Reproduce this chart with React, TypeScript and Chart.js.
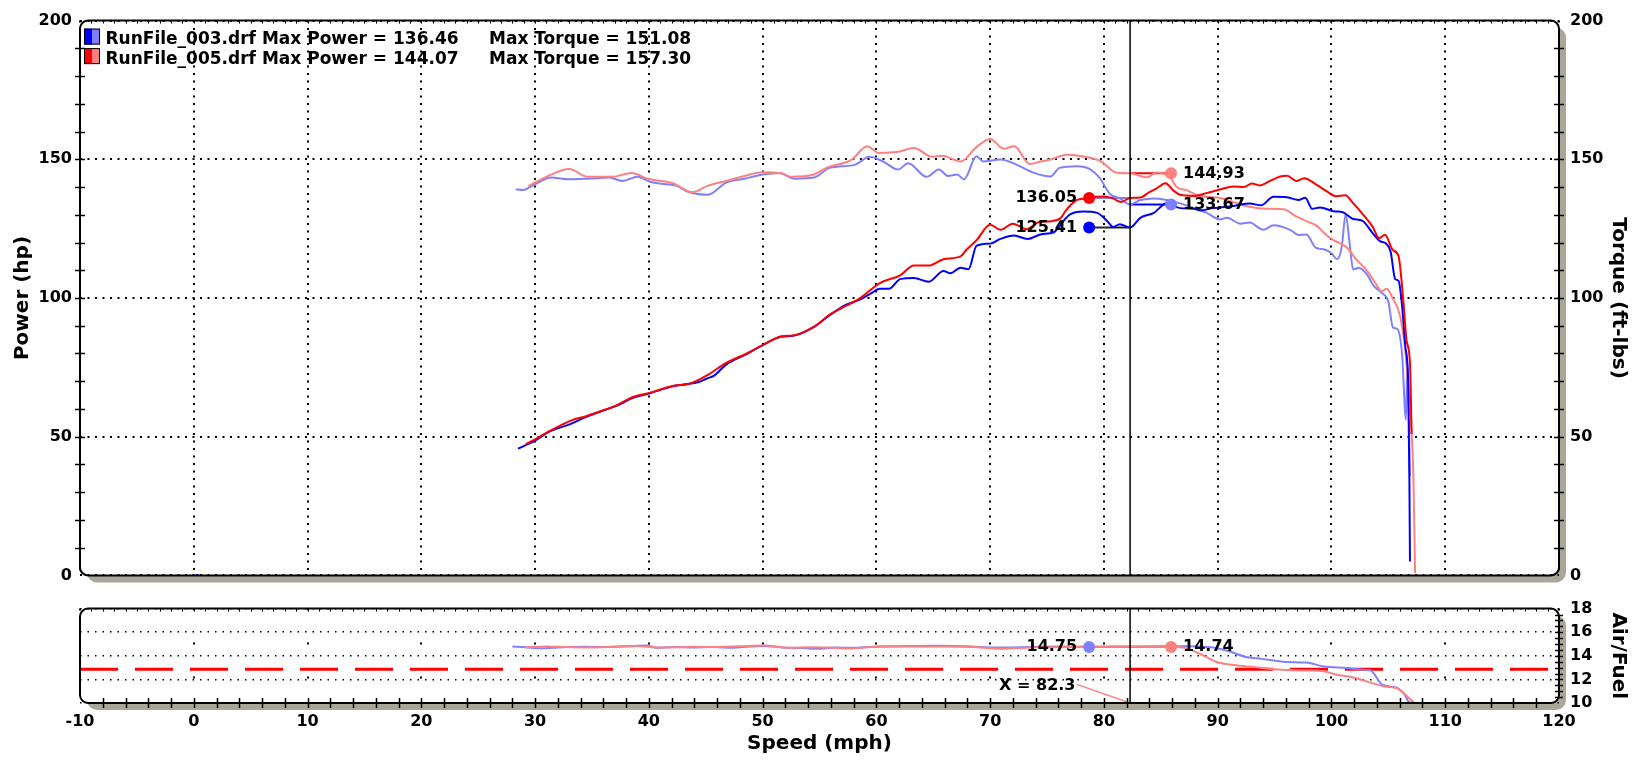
import React, { useEffect, useRef } from "react";
import { Chart, registerables } from "chart.js";

Chart.register(...registerables);

const FONT = "'DejaVu Sans', Verdana, sans-serif";
const BLUE = "#0000ff";
const RED = "#ff0000";
const LBLUE = "#8080ff";
const PINK = "#ff8080";
const SHADOW = "#aaa698";

// ---------- axes ----------
const speedMin = -10;
const speedMax = 120;
const speedStep = 10;
const powerMin = 0;
const powerMax = 200;
const powerStep = 50;
const afrMin = 10;
const afrMax = 18;
const afrStep = 2;

// ---------- titles / legend ----------
const powerTitle = "Power (hp)";
const torqueTitle = "Torque (ft-lbs)";
const afrTitle = "Air/Fuel";
const speedTitle = "Speed (mph)";
const runNames = ["RunFile_003.drf", "RunFile_005.drf"];
const runMaxPower = ["136.46", "144.07"];
const runMaxTorque = ["151.08", "157.30"];

// ---------- series: [speed mph, value] ----------
const power003: [number, number][] = [
  [28.5, 45.7], [30.0, 48.6], [31.3, 51.9], [33.2, 54.7], [34.5, 57.2], [35.7, 59.0], [37.2, 61.2], [38.6, 64.0],
  [40.0, 65.6], [42.1, 68.2], [43.4, 69.0], [44.3, 69.6], [45.1, 71.0], [45.7, 71.9], [46.8, 76.0], [48.6, 79.8],
  [50.0, 83.0], [51.6, 86.0], [52.7, 86.4], [54.4, 89.3], [55.9, 93.8], [57.3, 97.5], [58.5, 99.3], [59.5, 101.6],
  [60.3, 103.3], [61.1, 103.3], [62.1, 106.8], [63.3, 107.2], [64.6, 105.9], [65.9, 109.7], [66.5, 108.9],
  [67.4, 110.9], [68.1, 110.4], [68.8, 118.8], [70.0, 119.6], [70.9, 121.3], [72.1, 122.5], [73.3, 121.3],
  [74.5, 123.0], [75.6, 123.7], [76.3, 127.0], [77.0, 130.1], [78.2, 131.2], [79.4, 130.7], [80.3, 127.7],
  [80.8, 125.6], [81.4, 126.6], [82.3, 125.4], [83.2, 128.9], [84.4, 130.7], [85.5, 134.2], [86.7, 132.4],
  [87.9, 132.2], [88.5, 131.6], [89.6, 132.4], [91.4, 133.2], [92.8, 134.1], [93.8, 133.4], [94.9, 136.46],
  [96.1, 136.3], [97.1, 135.3], [97.7, 136.1], [98.3, 132.2], [99.0, 132.6], [100.2, 131.3], [101.0, 130.9],
  [101.9, 128.5], [102.7, 127.9], [103.6, 123.5], [104.3, 120.4], [104.7, 119.9], [105.2, 116.7], [105.6, 106.8],
  [105.9, 106.2], [106.2, 97.5], [106.5, 82.4], [106.75, 68.4], [106.85, 34.7], [106.9, 5.0],
];

const power005: [number, number][] = [
  [29.2, 47.3], [29.7, 48.4], [31.3, 52.1], [33.2, 55.9], [34.5, 57.4], [35.7, 59.1], [37.2, 61.4], [38.6, 64.3],
  [40.0, 65.7], [42.2, 68.4], [43.5, 69.0], [45.1, 72.1], [46.8, 76.6], [48.6, 80.0], [50.1, 83.2], [51.7, 86.2],
  [52.7, 86.5], [54.5, 89.6], [55.9, 94.0], [57.4, 97.3], [58.5, 99.8], [59.4, 102.6], [60.3, 105.4], [62.1, 108.2],
  [63.3, 111.7], [64.6, 111.7], [65.9, 114.0], [67.4, 115.0], [67.9, 117.3], [68.8, 120.8], [70.0, 126.4],
  [70.9, 124.6], [72.0, 126.8], [73.2, 124.8], [74.3, 127.4], [75.4, 127.7], [76.2, 128.8], [76.6, 131.2],
  [77.1, 133.6], [77.6, 135.3], [78.5, 135.9], [79.3, 136.5], [80.0, 136.6], [80.8, 135.9], [81.5, 134.6],
  [82.3, 136.05], [83.2, 136.2], [84.0, 138.2], [84.6, 139.4], [85.4, 141.4], [86.1, 138.8], [86.7, 137.2],
  [87.9, 136.8], [89.0, 137.8], [90.1, 139.0], [91.4, 140.2], [92.3, 140.0], [93.0, 141.3], [93.7, 140.6],
  [94.5, 142.0], [95.5, 143.8], [96.1, 144.07], [96.9, 142.2], [97.6, 143.2], [98.7, 140.8], [99.6, 138.4],
  [100.4, 136.7], [101.2, 137.0], [101.9, 134.2], [102.8, 130.0], [103.6, 125.8], [104.2, 121.6], [104.7, 122.8],
  [105.4, 117.3], [105.9, 115.0], [106.3, 99.8], [106.6, 84.7], [106.9, 76.6], [107.05, 51.0],
];

const torque003: [number, number][] = [
  [28.3, 139.2], [28.9, 138.9], [30.0, 141.0], [31.4, 143.4], [33.0, 142.8], [34.6, 143.0], [36.5, 143.4],
  [37.7, 142.2], [39.0, 143.7], [40.1, 141.9], [41.5, 141.0], [42.4, 140.5], [43.4, 138.4], [45.2, 137.2],
  [46.8, 141.6], [48.4, 143.0], [50.0, 144.5], [51.5, 145.1], [52.8, 143.0], [54.5, 143.4], [55.9, 146.9],
  [58.1, 148.0], [59.4, 150.9], [60.6, 149.2], [61.9, 146.3], [62.8, 148.6], [64.4, 143.7], [65.5, 146.3],
  [66.3, 144.0], [67.1, 144.5], [67.7, 142.8], [68.8, 151.08], [69.4, 149.2], [70.9, 149.9], [72.3, 148.1],
  [73.8, 145.2], [75.3, 143.8], [76.1, 146.9], [77.6, 147.5], [78.8, 146.4], [79.7, 142.9], [80.5, 137.6],
  [81.4, 135.9], [82.3, 133.7], [83.2, 135.3], [84.4, 135.9], [85.5, 135.3], [86.7, 134.1], [87.9, 132.4],
  [89.0, 130.8], [90.2, 128.3], [90.8, 128.9], [92.0, 126.8], [92.8, 127.2], [94.0, 124.6], [94.9, 126.2],
  [96.4, 124.5], [97.1, 122.7], [97.8, 122.9], [98.6, 118.2], [99.4, 117.5], [100.0, 116.1], [100.5, 114.0],
  [100.9, 118.4], [101.25, 130.1], [101.6, 119.6], [101.9, 110.3], [102.4, 110.9], [103.1, 108.6], [103.7, 104.5],
  [104.4, 101.9], [105.0, 98.7], [105.4, 89.4], [105.8, 88.8], [106.2, 80.0], [106.55, 56.2], [106.67, 76.6],
  [106.9, 35.8],
];

const torque005: [number, number][] = [
  [29.4, 140.3], [31.4, 144.5], [33.0, 146.5], [34.6, 143.7], [36.8, 143.7], [38.5, 145.1], [39.9, 143.0],
  [42.1, 141.4], [43.8, 138.1], [45.2, 140.5], [46.8, 142.2], [48.4, 144.0], [50.0, 145.3], [51.5, 145.1],
  [52.5, 143.7], [54.5, 144.5], [55.6, 146.9], [57.8, 149.8], [59.2, 154.7], [60.2, 152.3], [61.9, 152.7],
  [63.3, 154.1], [64.9, 150.9], [65.8, 151.3], [67.4, 149.2], [68.8, 154.4], [70.0, 157.3], [71.2, 153.8],
  [72.1, 154.7], [73.5, 148.3], [74.4, 149.2], [75.3, 149.9], [76.7, 151.6], [78.2, 151.0], [79.7, 149.3],
  [81.1, 145.2], [82.3, 144.93], [83.8, 143.5], [84.6, 145.2], [85.8, 143.5], [86.4, 140.0], [87.3, 138.8],
  [88.4, 136.8], [90.0, 136.2], [91.4, 134.5], [92.9, 132.8], [94.3, 132.2], [95.8, 132.0], [96.9, 129.4],
  [98.1, 127.2], [98.7, 126.0], [99.6, 122.5], [100.2, 120.8], [100.8, 119.6], [101.4, 118.0], [102.2, 113.8],
  [103.1, 110.0], [104.0, 104.5], [104.4, 102.4], [104.85, 103.3], [105.4, 99.8], [106.0, 94.0], [106.45, 82.4],
  [106.9, 59.1], [107.2, 35.8], [107.35, 0.9],
];

const afr003: [number, number][] = [
  [28.0, 14.79], [29.2, 14.72], [30.4, 14.63], [31.6, 14.68], [32.8, 14.74], [34.5, 14.76], [36.0, 14.74],
  [38.0, 14.8], [39.8, 14.87], [40.7, 14.68], [42.3, 14.74], [43.9, 14.71], [45.6, 14.74], [47.4, 14.68],
  [48.8, 14.78], [50.1, 14.84], [52.1, 14.68], [53.5, 14.66], [54.8, 14.59], [56.4, 14.7], [58.0, 14.68],
  [60.3, 14.79], [62.8, 14.82], [65.3, 14.85], [67.9, 14.8], [70.9, 14.7], [73.5, 14.74], [76.0, 14.78],
  [78.7, 14.76], [80.5, 14.78], [82.4, 14.79], [84.8, 14.8], [87.2, 14.8], [88.4, 14.78], [89.6, 14.7],
  [91.0, 14.39], [92.4, 13.92], [93.9, 13.74], [96.0, 13.48], [97.8, 13.43], [99.3, 13.09], [101.4, 12.96],
  [102.5, 12.83], [103.4, 12.78], [104.5, 11.53], [105.7, 11.32], [106.4, 10.75], [106.8, 10.1], [107.2, 10.0],
];

const afr005: [number, number][] = [
  [29.1, 14.71], [31.0, 14.79], [32.9, 14.74], [34.8, 14.71], [36.8, 14.76], [38.9, 14.84], [40.7, 14.71],
  [42.6, 14.72], [44.0, 14.76], [45.7, 14.74], [48.0, 14.8], [50.1, 14.87], [52.4, 14.68], [54.3, 14.72],
  [55.9, 14.7], [57.7, 14.61], [60.3, 14.79], [63.2, 14.78], [66.2, 14.79], [68.5, 14.74], [70.9, 14.6],
  [74.0, 14.72], [78.1, 14.76], [82.3, 14.77], [85.9, 14.78], [87.2, 14.65], [88.5, 14.13], [89.9, 13.48],
  [91.4, 13.22], [93.2, 13.04], [95.3, 12.83], [97.8, 12.75], [99.3, 12.7], [100.3, 12.44], [101.8, 12.18],
  [103.2, 11.79], [104.7, 11.4], [105.7, 11.27], [106.6, 10.62], [107.3, 10.0],
];

const stray003: [number, number][] = [[0.3, 0]];

// ---------- cursor / readouts ----------
const cursorSpeed = 82.3;
const markerSpeedLeft = 78.7;
const markerSpeedRight = 85.9;
const cursorPower = [125.41, 136.05]; // run 003, run 005
const cursorTorque = [133.67, 144.93];
const cursorAfr = [14.75, 14.74];
const afrTarget = 12.85;
const cursorLabel = "X = 82.3";
const cursorLabelAt: [number, number] = [77.5, 11.48];
const cursorLeader: [number, number][] = [[77.6, 11.58], [82.3, 10.0]];

// ---------- helpers ----------
const pts = (a: [number, number][]) => a.map(([x, y]) => ({ x, y }));
const fmt = (v: number) => v.toFixed(2);

const curve = (data: [number, number][], color: string, axis: string, order: number) => ({
  data: pts(data),
  borderColor: color,
  backgroundColor: color,
  borderWidth: 2,
  pointRadius: 0,
  pointHoverRadius: 0,
  yAxisID: axis,
  cubicInterpolationMode: "monotone",
  fill: false,
  order,
});

const seg = (data: [number, number][], color: string, axis: string, width = 2, dash: number[] = []) => ({
  data: pts(data),
  borderColor: color,
  backgroundColor: color,
  borderWidth: width,
  borderDash: dash,
  pointRadius: 0,
  pointHoverRadius: 0,
  yAxisID: axis,
  tension: 0,
  fill: false,
  order: 6,
});

const dot = (x: number, y: number, color: string, axis: string, r = 6) => ({
  data: [{ x, y }],
  showLine: false,
  pointRadius: r,
  pointHoverRadius: r,
  pointBackgroundColor: color,
  pointBorderColor: color,
  pointBorderWidth: 0,
  borderColor: color,
  backgroundColor: color,
  yAxisID: axis,
  order: 0,
});

function roundRectPath(ctx: CanvasRenderingContext2D, x: number, y: number, w: number, h: number, r: number) {
  ctx.beginPath();
  ctx.moveTo(x + r, y);
  ctx.lineTo(x + w - r, y);
  ctx.arcTo(x + w, y, x + w, y + r, r);
  ctx.lineTo(x + w, y + h - r);
  ctx.arcTo(x + w, y + h, x + w - r, y + h, r);
  ctx.lineTo(x + r, y + h);
  ctx.arcTo(x, y + h, x, y + h - r, r);
  ctx.lineTo(x, y + r);
  ctx.arcTo(x, y, x + r, y, r);
  ctx.closePath();
}

const framePlugin = {
  id: "frame",
  beforeDraw(chart: any) {
    const { ctx, chartArea: a } = chart;
    ctx.save();
    roundRectPath(ctx, a.left + 7, a.top + 7, a.right - a.left, a.bottom - a.top, 10);
    ctx.fillStyle = SHADOW;
    ctx.fill();
    roundRectPath(ctx, a.left, a.top, a.right - a.left, a.bottom - a.top, 8);
    ctx.fillStyle = "#ffffff";
    ctx.fill();
    ctx.restore();
  },
  afterDatasetsDraw(chart: any) {
    const { ctx, chartArea: a, scales } = chart;
    const cx = scales.x.getPixelForValue(cursorSpeed);
    ctx.save();
    ctx.strokeStyle = "#000";
    ctx.lineWidth = 1.5;
    ctx.beginPath();
    ctx.moveTo(cx, a.top);
    ctx.lineTo(cx, a.bottom);
    ctx.stroke();
    ctx.restore();
  },
  afterDraw(chart: any) {
    const { ctx, chartArea: a } = chart;
    ctx.save();
    roundRectPath(ctx, a.left, a.top, a.right - a.left, a.bottom - a.top, 8);
    ctx.lineWidth = 2;
    ctx.strokeStyle = "#000";
    ctx.stroke();
    ctx.restore();
  },
};

function drawValueLabel(ctx: CanvasRenderingContext2D, text: string, x: number, y: number, side: "left" | "right") {
  ctx.font = `bold 16px ${FONT}`;
  ctx.fillStyle = "#000";
  ctx.textBaseline = "middle";
  ctx.textAlign = side === "left" ? "right" : "left";
  ctx.fillText(text, side === "left" ? x - 12 : x + 12, y);
}

const mainDecor = {
  id: "mainDecor",
  afterDraw(chart: any) {
    const { ctx, chartArea: a, scales } = chart;
    const xs = scales.x;
    const ys = scales.y;
    const ts = scales.t;
    ctx.save();
    ctx.strokeStyle = "#000";
    ctx.lineWidth = 1.5;
    ctx.beginPath();
    for (let v = powerMin + 10; v < powerMax; v += 10) {
      const y = Math.round(ys.getPixelForValue(v)) + 0.5;
      ctx.moveTo(a.left - 5, y);
      ctx.lineTo(a.left + 5, y);
      ctx.moveTo(a.right - 5, y);
      ctx.lineTo(a.right + 5, y);
    }
    ctx.stroke();
    ctx.lineWidth = 1;
    ctx.beginPath();
    for (let s = speedMin + 1; s < speedMax; s += 1) {
      const x = Math.round(xs.getPixelForValue(s)) + 0.5;
      ctx.moveTo(x, a.top);
      ctx.lineTo(x, a.top + 3);
    }
    ctx.stroke();

    drawValueLabel(ctx, fmt(cursorPower[1]), xs.getPixelForValue(markerSpeedLeft), ys.getPixelForValue(cursorPower[1]), "left");
    drawValueLabel(ctx, fmt(cursorPower[0]), xs.getPixelForValue(markerSpeedLeft), ys.getPixelForValue(cursorPower[0]), "left");
    drawValueLabel(ctx, fmt(cursorTorque[1]), xs.getPixelForValue(markerSpeedRight), ts.getPixelForValue(cursorTorque[1]), "right");
    drawValueLabel(ctx, fmt(cursorTorque[0]), xs.getPixelForValue(markerSpeedRight), ts.getPixelForValue(cursorTorque[0]), "right");

    const cols = [[BLUE, LBLUE], [RED, PINK]];
    for (let i = 0; i < 2; i++) {
      const bx = a.left + 4;
      const by = a.top + 8 + i * 19.5;
      ctx.fillStyle = cols[i][0];
      ctx.fillRect(bx, by, 8, 16);
      ctx.fillStyle = cols[i][1];
      ctx.fillRect(bx + 8, by, 8, 16);
      ctx.strokeStyle = "#000";
      ctx.lineWidth = 1;
      ctx.strokeRect(bx + 0.5, by + 0.5, 15, 15);
      ctx.font = `bold 17px ${FONT}`;
      ctx.fillStyle = "#000";
      ctx.textAlign = "left";
      ctx.textBaseline = "alphabetic";
      const base = a.top + 23.5 + i * 19.5;
      ctx.fillText(`${runNames[i]} Max Power = ${runMaxPower[i]}`, a.left + 25.5, base);
      ctx.fillText(`Max Torque = ${runMaxTorque[i]}`, a.left + 409, base);
    }
    ctx.restore();
  },
};

const afrDecor = {
  id: "afrDecor",
  afterDraw(chart: any) {
    const { ctx, chartArea: a, scales } = chart;
    const xs = scales.x;
    const as = scales.a;
    ctx.save();
    ctx.strokeStyle = "#000";
    ctx.lineWidth = 1.5;
    ctx.beginPath();
    for (let s = speedMin + 2; s < speedMax; s += 2) {
      const x = Math.round(xs.getPixelForValue(s)) + 0.5;
      ctx.moveTo(x, a.bottom - 5);
      ctx.lineTo(x, a.bottom + 5);
    }
    for (let v = afrMin + 0.5; v < afrMax; v += 0.5) {
      const y = Math.round(as.getPixelForValue(v)) + 0.5;
      ctx.moveTo(a.right - 4, y);
      ctx.lineTo(a.right + 4, y);
    }
    ctx.stroke();
    ctx.lineWidth = 1;
    ctx.beginPath();
    for (let s = speedMin + 1; s < speedMax; s += 1) {
      const x = Math.round(xs.getPixelForValue(s)) + 0.5;
      ctx.moveTo(x, a.top);
      ctx.lineTo(x, a.top + 3);
    }
    ctx.stroke();

    drawValueLabel(ctx, fmt(cursorAfr[0]), xs.getPixelForValue(markerSpeedLeft), as.getPixelForValue(cursorAfr[0]), "left");
    drawValueLabel(ctx, fmt(cursorAfr[1]), xs.getPixelForValue(markerSpeedRight), as.getPixelForValue(cursorAfr[1]), "right");

    ctx.font = `bold 16px ${FONT}`;
    ctx.fillStyle = "#000";
    ctx.textAlign = "right";
    ctx.textBaseline = "middle";
    ctx.fillText(cursorLabel, xs.getPixelForValue(cursorLabelAt[0]), as.getPixelForValue(cursorLabelAt[1]));
    ctx.restore();
  },
};

const tickFont = { family: FONT, size: 16, weight: "bold" as const };
const titleFont = { family: FONT, size: 20, weight: "bold" as const };
const DOTTED = [2, 5.5];

const AFR_TOP = 588;
const AFR_H = 760 - AFR_TOP;

export default function App() {
  const mainRef = useRef<HTMLCanvasElement | null>(null);
  const afrRef = useRef<HTMLCanvasElement | null>(null);

  useEffect(() => {
    Chart.defaults.font.family = FONT;
    Chart.defaults.color = "#000";

    const main = new Chart(mainRef.current as HTMLCanvasElement, {
      type: "line",
      data: {
        datasets: [
          seg([[cursorSpeed, cursorPower[0]], [markerSpeedLeft, cursorPower[0]]], "#222222", "y"),
          seg([[cursorSpeed, cursorPower[1]], [markerSpeedLeft, cursorPower[1]]], LBLUE, "y"),
          seg([[cursorSpeed, cursorTorque[0]], [markerSpeedRight, cursorTorque[0]]], BLUE, "t"),
          seg([[cursorSpeed, cursorTorque[1]], [markerSpeedRight, cursorTorque[1]]], RED, "t"),
          curve(torque003, LBLUE, "t", 5),
          curve(torque005, PINK, "t", 4),
          curve(power003, BLUE, "y", 3),
          curve(power005, RED, "y", 2),
          dot(markerSpeedLeft, cursorPower[0], BLUE, "y"),
          dot(markerSpeedLeft, cursorPower[1], RED, "y"),
          dot(markerSpeedRight, cursorTorque[0], LBLUE, "t"),
          dot(markerSpeedRight, cursorTorque[1], PINK, "t"),
          { ...dot(stray003[0][0], stray003[0][1], BLUE, "y", 2), pointStyle: "rect" },
        ] as any,
      },
      options: {
        responsive: false,
        animation: false,
        devicePixelRatio: 1,
        events: [],
        layout: { padding: { top: 13, left: 0, right: 0, bottom: 0 } },
        plugins: { legend: { display: false }, tooltip: { enabled: false } },
        scales: {
          x: {
            type: "linear",
            min: speedMin,
            max: speedMax,
            ticks: { display: false, stepSize: speedStep },
            grid: { color: "#000", lineWidth: 2, drawTicks: false },
            border: { display: false, dash: DOTTED },
            afterFit: (s: any) => { s.height = 10; },
          },
          y: {
            type: "linear",
            position: "left",
            min: powerMin,
            max: powerMax,
            ticks: { stepSize: powerStep, padding: 8, font: tickFont, color: "#000" },
            grid: { color: "#000", lineWidth: 2, drawTicks: false },
            border: { display: false, dash: DOTTED },
            title: { display: true, text: powerTitle, font: titleFont, color: "#000", padding: { top: 11, bottom: 0 } },
            afterFit: (s: any) => { s.width = 80; },
          },
          t: {
            type: "linear",
            position: "right",
            min: powerMin,
            max: powerMax,
            ticks: { stepSize: powerStep, padding: 11, font: tickFont, color: "#000" },
            grid: { display: false, drawTicks: false },
            border: { display: false },
            title: { display: true, text: torqueTitle, font: titleFont, color: "#000", padding: { top: 11, bottom: 0 } },
            afterFit: (s: any) => { s.width = 82; },
          },
        },
      } as any,
      plugins: [framePlugin, mainDecor],
    });

    const afr = new Chart(afrRef.current as HTMLCanvasElement, {
      type: "line",
      data: {
        datasets: [
          seg([[speedMin, afrTarget], [speedMax, afrTarget]], RED, "a", 3, [38, 17]),
          seg(cursorLeader, PINK, "a", 1.5),
          seg([[cursorSpeed, cursorAfr[0]], [markerSpeedLeft, cursorAfr[0]]], LBLUE, "a"),
          seg([[cursorSpeed, cursorAfr[1]], [markerSpeedRight, cursorAfr[1]]], PINK, "a"),
          curve(afr003, LBLUE, "a", 3),
          curve(afr005, PINK, "a", 2),
          dot(markerSpeedLeft, cursorAfr[0], LBLUE, "a"),
          dot(markerSpeedRight, cursorAfr[1], PINK, "a"),
        ] as any,
      },
      options: {
        responsive: false,
        animation: false,
        devicePixelRatio: 1,
        events: [],
        layout: { padding: { top: 600.5 - AFR_TOP, left: 80, right: 0, bottom: 0 } },
        plugins: { legend: { display: false }, tooltip: { enabled: false } },
        scales: {
          x: {
            type: "linear",
            min: speedMin,
            max: speedMax,
            ticks: { stepSize: speedStep, padding: 9, font: tickFont, color: "#000", maxRotation: 0, autoSkip: false },
            grid: { color: "#000", lineWidth: 2, drawTicks: false },
            border: { display: false, dash: [2, 32] },
            title: { display: true, text: speedTitle, font: titleFont, color: "#000", padding: { top: 0, bottom: 4 } },
            afterFit: (s: any) => { s.height = 57; },
          },
          a: {
            type: "linear",
            position: "right",
            min: afrMin,
            max: afrMax,
            ticks: { stepSize: afrStep, padding: 11, font: tickFont, color: "#000" },
            grid: { color: "#000", lineWidth: 1.5, drawTicks: false },
            border: { display: false, dash: [1.5, 6] },
            title: { display: true, text: afrTitle, font: titleFont, color: "#000", padding: { top: 11, bottom: 0 } },
            afterFit: (s: any) => { s.width = 82; },
          },
        },
      } as any,
      plugins: [framePlugin, afrDecor],
    });

    return () => {
      main.destroy();
      afr.destroy();
    };
  }, []);

  return (
    <div style={{ position: "absolute", left: 0, top: 0, width: 1641, height: 760, background: "#fff" }}>
      <canvas ref={mainRef} width={1641} height={596} style={{ position: "absolute", left: 0, top: 0, width: 1641, height: 596 }} />
      <canvas ref={afrRef} width={1641} height={AFR_H} style={{ position: "absolute", left: 0, top: AFR_TOP, width: 1641, height: AFR_H }} />
    </div>
  );
}
